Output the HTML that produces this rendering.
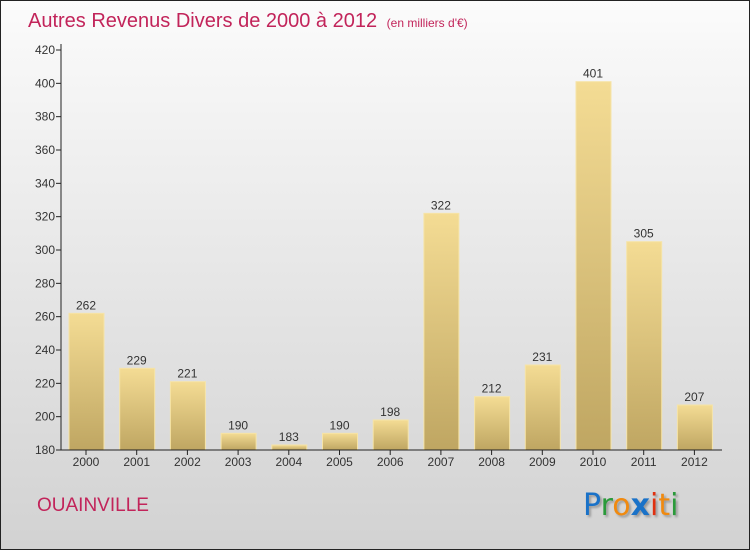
<!DOCTYPE html>
<html><head><meta charset="utf-8"><style>
body{margin:0;}
#wrap{position:relative;width:750px;height:550px;box-sizing:border-box;border:1px solid #222;background:linear-gradient(#fbfbfb,#d2d2d2);font-family:"Liberation Sans",sans-serif;overflow:hidden}
.title{position:absolute;left:27px;top:9px;font-size:20px;color:#c2245a;white-space:nowrap}
.title small{font-size:12px;margin-left:4px}
.city{position:absolute;left:36px;top:494px;font-size:19px;color:#c2245a}
.logo{position:absolute;left:582px;top:487px;font-size:30px;font-family:"DejaVu Sans",sans-serif;text-shadow:2px 2px 2px #999}
</style></head><body>
<div id="wrap">
<div class="title">Autres Revenus Divers de 2000 à 2012 <small>(en milliers d'€)</small></div>
<svg id="chart" width="750" height="550" style="position:absolute;left:-1px;top:-1px">
<defs><linearGradient id="bg" x1="0" y1="0" x2="0" y2="1"><stop offset="0" stop-color="#f4dc94"/><stop offset="1" stop-color="#bfa662"/></linearGradient></defs>
</svg>
<div class="city">OUAINVILLE</div>
<div class="logo"><span style="color:#1a72c8">P</span><span style="color:#2a9a3a">r</span><span style="color:#f08a10">o</span><span style="color:#1a72c8;font-weight:bold">x</span><span style="color:#e03010">i</span><span style="color:#f08a10">t</span><span style="color:#2a9a3a">i</span></div>
</div>
<script>
const categories=["2000","2001","2002","2003","2004","2005","2006","2007","2008","2009","2010","2011","2012"];
const values=[262,229,221,190,183,190,198,322,212,231,401,305,207];
const ticks=[180,200,220,240,260,280,300,320,340,360,380,400,420];
const NS="http://www.w3.org/2000/svg";
const svg=document.getElementById('chart');
const y0=450,ymin=180,ymax=420,ytop=50;
const ys=v=>y0-(v-ymin)/(ymax-ymin)*(y0-ytop);
const xs=i=>86+i*50.7;
function el(t,a){const e=document.createElementNS(NS,t);for(const k in a)e.setAttribute(k,a[k]);svg.appendChild(e);return e;}
ticks.forEach(t=>{
  const l=el('line',{x1:56,x2:61,y1:ys(t),y2:ys(t),stroke:'#222'});
  
  
  const tx=el('text',{x:55,y:ys(t)+4,'text-anchor':'end','font-size':12,fill:'#333','font-family':'Liberation Sans, sans-serif'});
  tx.textContent=t;
  
  
});
categories.forEach((c,i)=>{
  const v=values[i],x=xs(i);
  const b=el('rect',{x:x-17,y:ys(v),width:35,height:y0-ys(v),fill:'url(#bg)',stroke:'#f6e4a8','stroke-width':1});
  
  
  const lb=el('text',{x:x,y:ys(v)-4,'text-anchor':'middle','font-size':12,fill:'#333','font-family':'Liberation Sans, sans-serif'});
  lb.textContent=v;
  
  
  const tk=el('line',{x1:x,x2:x,y1:y0,y2:y0+5,stroke:'#222'});
  
  
  const cl=el('text',{x:x,y:y0+16,'text-anchor':'middle','font-size':12,fill:'#333','font-family':'Liberation Sans, sans-serif'});
  cl.textContent=c;
  
  
});
const ya=el('line',{x1:61,x2:61,y1:ytop-6,y2:y0,stroke:'#222'});


const xa=el('line',{x1:61,x2:722,y1:y0,y2:y0,stroke:'#222'});


</script>
</body></html>
